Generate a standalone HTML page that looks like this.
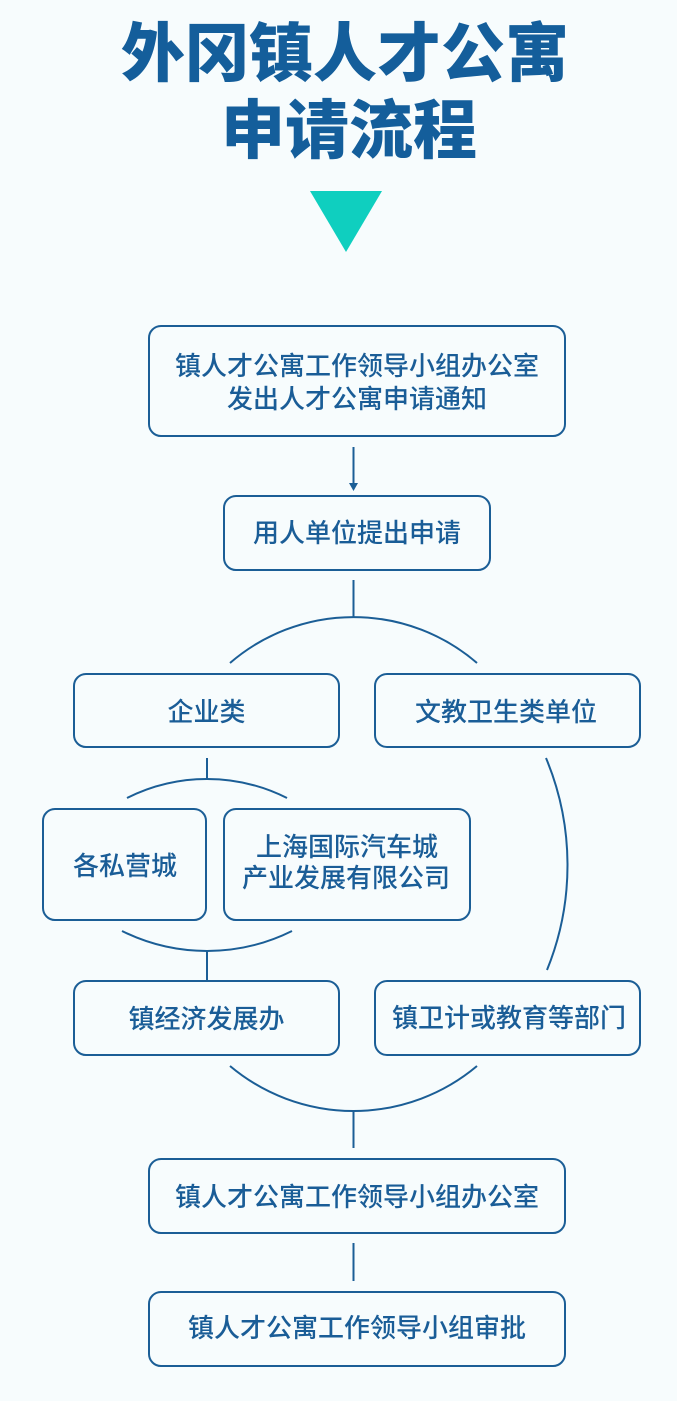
<!DOCTYPE html>
<html>
<head>
<meta charset="utf-8">
<style>
  html, body { margin: 0; padding: 0; }
  body { width: 677px; height: 1401px; background: #f7fcfd; overflow: hidden; }
  svg { display: block; }
  .t { font-family: "Liberation Sans", "Noto Sans CJK SC", sans-serif; font-size: 26px; font-weight: 500; fill: #1a5d97; }
  .h { font-family: "Liberation Sans", "Noto Sans CJK SC", sans-serif; font-size: 64px; font-weight: 900; fill: #145e9b; }
</style>
</head>
<body>
<svg width="677" height="1401" viewBox="0 0 677 1401" xmlns="http://www.w3.org/2000/svg">
  <rect x="0" y="0" width="677" height="1401" fill="#f7fcfd"/>

  <!-- Title -->
  <text class="h" x="345" y="54" text-anchor="middle" dominant-baseline="central">外冈镇人才公寓</text>
  <text class="h" x="349" y="131" text-anchor="middle" dominant-baseline="central">申请流程</text>

  <!-- Teal triangle -->
  <polygon points="310,191 382,191 346,252" fill="#0fcfbf"/>

  <g fill="none" stroke="#1b5e96" stroke-width="2">
    <!-- Box 1 -->
    <rect x="149" y="326" width="416" height="110" rx="12" ry="12"/>
    <!-- Box 2 -->
    <rect x="224" y="496" width="266" height="74" rx="12" ry="12"/>
    <!-- 企业类 / 文教卫生类单位 -->
    <rect x="74" y="674" width="265" height="73" rx="12" ry="12"/>
    <rect x="375" y="674" width="265" height="73" rx="12" ry="12"/>
    <!-- 各私营城 / 上海国际汽车城 -->
    <rect x="43" y="809" width="163" height="111" rx="12" ry="12"/>
    <rect x="224" y="809" width="246" height="111" rx="12" ry="12"/>
    <!-- 镇经济发展办 / 镇卫计 -->
    <rect x="74" y="981" width="265" height="74" rx="12" ry="12"/>
    <rect x="375" y="981" width="265" height="74" rx="12" ry="12"/>
    <!-- Bottom boxes -->
    <rect x="149" y="1159" width="416" height="74" rx="12" ry="12"/>
    <rect x="149" y="1292" width="416" height="74" rx="12" ry="12"/>

    <!-- Arrow line -->
    <line x1="353.5" y1="447" x2="353.5" y2="484"/>
    <!-- Connector lines -->
    <line x1="353.5" y1="580" x2="353.5" y2="618"/>
    <path d="M230 663 A189 189 0 0 1 477 663"/>
    <line x1="207" y1="758" x2="207" y2="780"/>
    <path d="M127 798 A178 178 0 0 1 287 798"/>
    <path d="M122 931 A191 191 0 0 0 292 931"/>
    <line x1="207" y1="950" x2="207" y2="981"/>
    <path d="M546 758 A278 278 0 0 1 547 970"/>
    <path d="M230 1066 A192 192 0 0 0 477 1066"/>
    <line x1="353.5" y1="1110" x2="353.5" y2="1148"/>
    <line x1="353.5" y1="1243" x2="353.5" y2="1281"/>
  </g>
  <!-- arrow head -->
  <polygon points="349,483 358,483 353.5,491" fill="#1b5e96"/>

  <!-- Labels -->
  <text class="t" x="357" y="366" text-anchor="middle" dominant-baseline="central">镇人才公寓工作领导小组办公室</text>
  <text class="t" x="357" y="399" text-anchor="middle" dominant-baseline="central">发出人才公寓申请通知</text>
  <text class="t" x="357" y="533" text-anchor="middle" dominant-baseline="central">用人单位提出申请</text>
  <text class="t" x="206.5" y="712" text-anchor="middle" dominant-baseline="central">企业类</text>
  <text class="t" x="506" y="712" text-anchor="middle" dominant-baseline="central">文教卫生类单位</text>
  <text class="t" x="125" y="866" text-anchor="middle" dominant-baseline="central">各私营城</text>
  <text class="t" x="347" y="847" text-anchor="middle" dominant-baseline="central">上海国际汽车城</text>
  <text class="t" x="346" y="878" text-anchor="middle" dominant-baseline="central">产业发展有限公司</text>
  <text class="t" x="206.5" y="1019" text-anchor="middle" dominant-baseline="central">镇经济发展办</text>
  <text class="t" x="509" y="1018" text-anchor="middle" dominant-baseline="central">镇卫计或教育等部门</text>
  <text class="t" x="357" y="1197" text-anchor="middle" dominant-baseline="central">镇人才公寓工作领导小组办公室</text>
  <text class="t" x="357" y="1328" text-anchor="middle" dominant-baseline="central">镇人才公寓工作领导小组审批</text>
</svg>
</body>
</html>
